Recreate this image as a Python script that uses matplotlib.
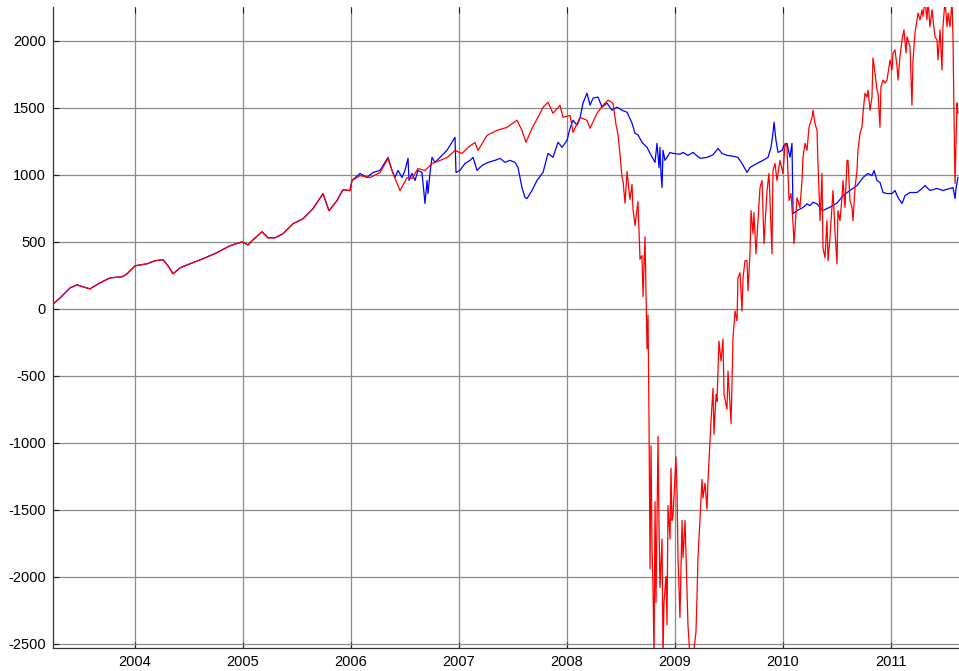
import matplotlib
matplotlib.use("Agg")
import matplotlib.pyplot as plt
import numpy as np

plt.rcParams['font.family'] = ['Liberation Sans', 'DejaVu Sans']
plt.rcParams['axes.unicode_minus'] = False

# shared path of both series (2003.24 - 2006)
common_t = [2003.241, 2003.306, 2003.398, 2003.463, 2003.519, 2003.583, 2003.676, 2003.769,
            2003.880, 2003.926, 2004.000, 2004.111, 2004.185, 2004.259, 2004.306, 2004.352,
            2004.417, 2004.509, 2004.630, 2004.759, 2004.880, 2004.991, 2005.046, 2005.093,
            2005.176, 2005.231, 2005.296, 2005.370, 2005.463, 2005.556, 2005.648, 2005.741,
            2005.796, 2005.870, 2005.926, 2005.991]
common_v = [37, 82, 157, 180, 165, 150, 195, 232, 240, 262, 322, 337, 360, 367, 322, 262,
            307, 337, 375, 420, 472, 500, 478, 516, 576, 531, 531, 561, 636, 673, 748, 860,
            733, 808, 890, 883]

red_t = [2006.009, 2006.083, 2006.176, 2006.269, 2006.343, 2006.389, 2006.454, 2006.519,
         2006.565, 2006.620, 2006.685, 2006.750, 2006.824, 2006.889, 2006.963, 2007.028,
         2007.083, 2007.148, 2007.176, 2007.259, 2007.352, 2007.444, 2007.537, 2007.583,
         2007.620, 2007.676, 2007.750, 2007.778, 2007.824, 2007.870, 2007.935, 2007.963,
         2008.028, 2008.056, 2008.120, 2008.185, 2008.213, 2008.278, 2008.333, 2008.380,
         2008.426, 2008.454, 2008.472, 2008.491, 2008.509, 2008.519, 2008.537, 2008.556,
         2008.583, 2008.602, 2008.611, 2008.630, 2008.657, 2008.676, 2008.694, 2008.704,
         2008.722, 2008.741, 2008.750, 2008.759, 2008.769, 2008.778, 2008.787, 2008.796,
         2008.806, 2008.815, 2008.824, 2008.843, 2008.852, 2008.861, 2008.880, 2008.889,
         2008.898, 2008.917, 2008.926, 2008.935, 2008.954, 2008.963, 2008.972, 2008.981,
         2009.000, 2009.009, 2009.019, 2009.028, 2009.046, 2009.065, 2009.074, 2009.093,
         2009.111, 2009.120, 2009.139, 2009.167, 2009.194, 2009.204, 2009.213, 2009.231,
         2009.250, 2009.259, 2009.278, 2009.296, 2009.306, 2009.333, 2009.352, 2009.361,
         2009.380, 2009.389, 2009.407, 2009.426, 2009.444, 2009.454, 2009.481, 2009.491,
         2009.519, 2009.537, 2009.556, 2009.574, 2009.583, 2009.602, 2009.620, 2009.630,
         2009.648, 2009.667, 2009.676, 2009.694, 2009.704, 2009.722, 2009.731, 2009.750,
         2009.769, 2009.787, 2009.806, 2009.824, 2009.852, 2009.870, 2009.898, 2009.907,
         2009.926, 2009.944, 2009.972, 2010.000, 2010.019, 2010.037, 2010.056, 2010.074,
         2010.093, 2010.102, 2010.120, 2010.130, 2010.157, 2010.176, 2010.185, 2010.204,
         2010.222, 2010.241, 2010.269, 2010.278, 2010.296, 2010.315, 2010.324, 2010.343,
         2010.361, 2010.370, 2010.389, 2010.407, 2010.417, 2010.435, 2010.463, 2010.481,
         2010.500, 2010.509, 2010.528, 2010.546, 2010.556, 2010.574, 2010.593, 2010.602,
         2010.620, 2010.639, 2010.648, 2010.667, 2010.685, 2010.694, 2010.713, 2010.731,
         2010.741, 2010.759, 2010.778, 2010.787, 2010.806, 2010.824, 2010.833, 2010.852,
         2010.870, 2010.880, 2010.898, 2010.907, 2010.926, 2010.944, 2010.963, 2010.991,
         2011.009, 2011.019, 2011.037, 2011.056, 2011.065, 2011.083, 2011.102, 2011.120,
         2011.139, 2011.148, 2011.176, 2011.194, 2011.204, 2011.222, 2011.241, 2011.250,
         2011.269, 2011.287, 2011.296, 2011.315, 2011.333, 2011.343, 2011.361, 2011.380,
         2011.389, 2011.407, 2011.426, 2011.435, 2011.454, 2011.472, 2011.481, 2011.500,
         2011.519, 2011.528, 2011.546, 2011.565, 2011.574, 2011.583, 2011.593, 2011.611,
         2011.620]
red_v = [958, 995, 980, 1018, 1123, 1010, 883, 980,
         973, 1048, 1033, 1085, 1108, 1130, 1183, 1160,
         1205, 1243, 1183, 1295, 1333, 1355, 1408, 1333,
         1243, 1348, 1460, 1505, 1543, 1460, 1520, 1430,
         1445, 1318, 1430, 1408, 1348, 1460, 1520, 1558,
         1535, 1374, 1304, 1151, 984, 956, 789, 1026,
         817, 929, 747, 622, 803, 371, 399, 93,
         538, -297, -46, -798, -1940, -1021, -1773, -2079,
         -2600, -1438, -2190, -951, -1633, -2079, -1717, -2600,
         -2190, -1996, -2358, -1467, -1717, -1188, -1578, -1550,
         -1244, -1105, -1383, -1856, -2302, -1578, -1856, -1578,
         -2079, -2358, -2600, -2600, -2413, -2135, -1856, -1578,
         -1272, -1411, -1300, -1494, -1273, -839, -592, -936,
         -637, -689, -240, -390, -225, -637, -749, -464,
         -854, -217, -15, -90, 232, 270, -15, 232,
         360, 360, 135, 412, 734, 562, 719, 412,
         659, 906, 958, 487, 883, 1011, 412, 1033,
         1086, 958, 1108, 1011, 1236, 1206, 809, 861,
         637, 487, 712, 831, 757, 959, 1131, 1236,
         1184, 1356, 1431, 1483, 1386, 1333, 1086, 659,
         1011, 457, 382, 659, 360, 532, 884, 584,
         337, 734, 659, 831, 959, 757, 1109, 1109,
         809, 757, 659, 906, 1033, 1184, 1311, 1356,
         1461, 1610, 1581, 1633, 1483, 1581, 1873, 1760,
         1633, 1610, 1356, 1656, 1708, 1685, 1708, 1858,
         1783, 1910, 1933, 1808, 1708, 1885, 2008, 2083,
         1910, 2031, 1955, 1520, 1858, 2058, 2158, 2208,
         2158, 2233, 2183, 2300, 2158, 2300, 2106, 2233,
         2158, 2031, 2008, 1858, 2083, 1783, 2106, 2300,
         2106, 2208, 2106, 2300, 2031, 1461, 936, 1536,
         1461]

blue_t = [2006.009, 2006.083, 2006.148, 2006.204, 2006.269, 2006.343, 2006.380, 2006.407,
          2006.435, 2006.472, 2006.500, 2006.528, 2006.537, 2006.565, 2006.593, 2006.620,
          2006.657, 2006.685, 2006.704, 2006.713, 2006.731, 2006.750, 2006.778, 2006.824,
          2006.889, 2006.935, 2006.963, 2006.972, 2007.009, 2007.056, 2007.102, 2007.130,
          2007.167, 2007.213, 2007.269, 2007.333, 2007.380, 2007.426, 2007.472, 2007.519,
          2007.546, 2007.583, 2007.611, 2007.630, 2007.676, 2007.722, 2007.778, 2007.824,
          2007.870, 2007.917, 2007.954, 2008.000, 2008.028, 2008.056, 2008.093, 2008.120,
          2008.148, 2008.185, 2008.213, 2008.241, 2008.287, 2008.324, 2008.370, 2008.417,
          2008.463, 2008.509, 2008.556, 2008.602, 2008.630, 2008.657, 2008.694, 2008.741,
          2008.769, 2008.815, 2008.833, 2008.852, 2008.861, 2008.870, 2008.880, 2008.889,
          2008.907, 2008.926, 2008.954, 2008.981, 2009.046, 2009.074, 2009.120, 2009.167,
          2009.231, 2009.296, 2009.352, 2009.398, 2009.435, 2009.481, 2009.537, 2009.583,
          2009.620, 2009.667, 2009.694, 2009.759, 2009.815, 2009.861, 2009.889, 2009.907,
          2009.917, 2009.935, 2009.954, 2009.991, 2010.009, 2010.037, 2010.065, 2010.083,
          2010.093, 2010.130, 2010.185, 2010.222, 2010.250, 2010.278, 2010.315, 2010.370,
          2010.435, 2010.500, 2010.556, 2010.620, 2010.685, 2010.741, 2010.787, 2010.824,
          2010.843, 2010.870, 2010.898, 2010.926, 2010.963, 2011.009, 2011.037, 2011.065,
          2011.102, 2011.130, 2011.176, 2011.241, 2011.287, 2011.315, 2011.361, 2011.426,
          2011.481, 2011.546, 2011.574, 2011.593, 2011.602, 2011.620]
blue_v = [959, 1011, 981, 1019, 1034, 1131, 1034, 981,
          1034, 981, 1034, 1124, 959, 1011, 959, 1034,
          1019, 787, 959, 861, 1011, 1131, 1094, 1131,
          1184, 1244, 1281, 1019, 1034, 1086, 1109, 1131,
          1034, 1071, 1094, 1109, 1124, 1094, 1109, 1094,
          1056, 906, 831, 824, 884, 959, 1019, 1161,
          1131, 1244, 1206, 1258, 1348, 1408, 1371, 1423,
          1536, 1610, 1521, 1573, 1581, 1506, 1536, 1483,
          1506, 1483, 1468, 1386, 1311, 1300, 1244, 1206,
          1161, 1094, 1236, 1056, 1206, 1011, 906, 1184,
          1109, 1131, 1168, 1161, 1155, 1168, 1146, 1168,
          1124, 1131, 1150, 1198, 1161, 1146, 1140, 1131,
          1086, 1019, 1056, 1086, 1109, 1131, 1206, 1311,
          1393, 1258, 1168, 1184, 1221, 1236, 1131, 1236,
          712, 734, 757, 784, 771, 796, 784, 734,
          760, 790, 846, 884, 921, 981, 1011, 995,
          1033, 959, 944, 869, 861, 861, 884, 831,
          787, 846, 869, 869, 899, 921, 884, 899,
          884, 899, 906, 824, 899, 981]

x_ticks = [2004, 2005, 2006, 2007, 2008, 2009, 2010, 2011]
y_ticks = [2000, 1500, 1000, 500, 0, -500, -1000, -1500, -2000, -2500]

fig = plt.figure(figsize=(9.59, 6.71), dpi=100)
ax = fig.add_axes([53 / 959, 23 / 671, 1 - 53 / 959, (648 - 6.5) / 671])

bt = common_t + blue_t
bv = common_v + blue_v
rt = common_t + red_t
rv = common_v + red_v
ax.plot(bt, bv, color=(0, 0, 1), lw=0.9, zorder=3)
ax.plot(rt, rv, color=(1, 0, 0), lw=0.9, zorder=4)

ax.set_xlim(2003.2407, 2011.6296)
ax.set_ylim(-2530, 2257)
ax.set_xticks(x_ticks)
ax.set_xticklabels([str(t) for t in x_ticks])
ax.set_yticks(y_ticks)
ax.set_yticklabels([str(t) for t in y_ticks])

ax.grid(True, color='#8a8a8a', lw=0.9, zorder=1)
ax.set_axisbelow(True)
ax.tick_params(axis='both', direction='in', length=4, width=0.8, labelsize=10.5,
               color='#222222', pad=5)
ax.tick_params(axis='x', top=True)
ax.tick_params(axis='y', right=False)
for s in ['top', 'right']:
    ax.spines[s].set_visible(False)
for s in ['left', 'bottom']:
    ax.spines[s].set_color('#333333')
    ax.spines[s].set_linewidth(0.9)

fig.savefig('out.png', dpi=100)
